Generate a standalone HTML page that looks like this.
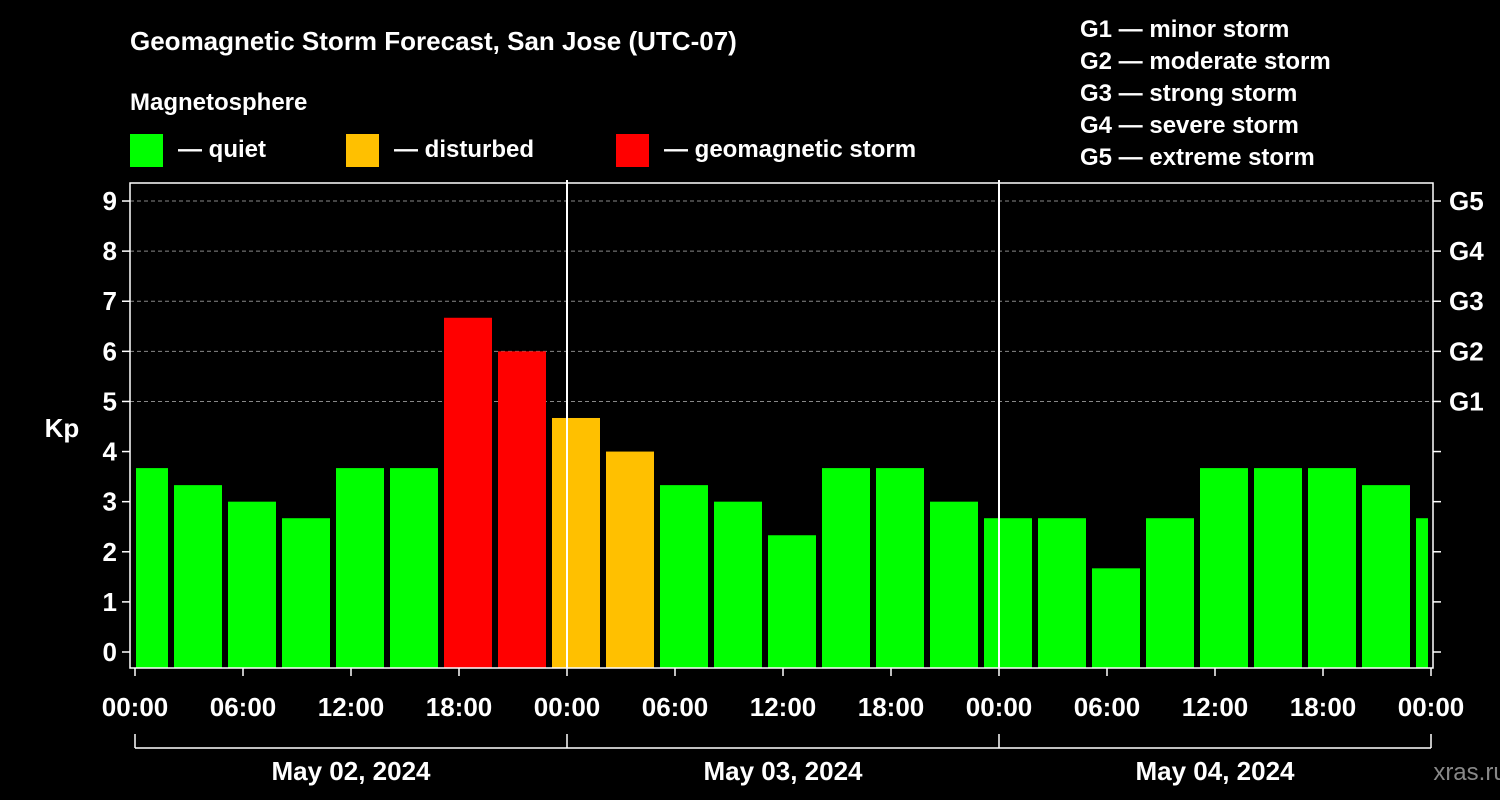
<!DOCTYPE html>
<html><head><meta charset="utf-8"><style>
html,body{margin:0;padding:0;background:#000;}
svg{display:block;font-family:"Liberation Sans",Arial,sans-serif;font-weight:bold;}
</style></head><body>
<svg width="1500" height="800" viewBox="0 0 1500 800">
<text x="130" y="50" fill="#fff" font-size="26">Geomagnetic Storm Forecast, San Jose (UTC-07)</text>
<text x="130" y="110" fill="#fff" font-size="24">Magnetosphere</text>
<g><rect x="130" y="134" width="33" height="33" fill="#00ff00"/><text x="178" y="157" fill="#fff" font-size="24">— quiet</text></g>
<g><rect x="346" y="134" width="33" height="33" fill="#ffc000"/><text x="394" y="157" fill="#fff" font-size="24">— disturbed</text></g>
<g><rect x="616" y="134" width="33" height="33" fill="#ff0000"/><text x="664" y="157" fill="#fff" font-size="24">— geomagnetic storm</text></g>
<g fill="#fff" font-size="24">
<text x="1080" y="37">G1 — minor storm</text>
<text x="1080" y="69">G2 — moderate storm</text>
<text x="1080" y="101">G3 — strong storm</text>
<text x="1080" y="133">G4 — severe storm</text>
<text x="1080" y="165">G5 — extreme storm</text>
</g>
<text x="62" y="437" fill="#fff" font-size="26" text-anchor="middle">Kp</text>
<text x="1470" y="780" fill="#888" font-size="24" text-anchor="middle" font-weight="normal">xras.ru</text>
<g id="grid"></g>
<g id="bars"></g>
<g id="axes"></g>
</svg>
<script>
const kpValues=[3.67,3.33,3,2.67,3.67,3.67,6.67,6,4.67,4,3.33,3,2.33,3.67,3.67,3,2.67,2.67,1.67,2.67,3.67,3.67,3.67,3.33,2.67];
const yTicks=[0,1,2,3,4,5,6,7,8,9];
const gLabels=["G1","G2","G3","G4","G5"];
const xTickLabels=["00:00","06:00","12:00","18:00","00:00","06:00","12:00","18:00","00:00","06:00","12:00","18:00","00:00"];
const dateLabels=["May 02, 2024","May 03, 2024","May 04, 2024"];
const NS="http://www.w3.org/2000/svg";
const L=130,R=1433,T=183,B=668;
const y=v=>652-v*50.11;
const x=h=>135+h*18;
function mk(tag,attrs,parent,txt){const e=document.createElementNS(NS,tag);for(const k in attrs)e.setAttribute(k,attrs[k]);if(txt!==undefined)e.textContent=txt;document.getElementById(parent).appendChild(e);return e;}
function color(v){return v>=5?"#ff0000":v>=4?"#ffc000":"#00ff00";}
yTicks.forEach(v=>{
  if(v>=5){const g=mk("line",{x1:L,x2:R,y1:y(v),y2:y(v),stroke:"#888","stroke-dasharray":"4,3","stroke-width":1},"grid");
  
  }
  const t=mk("line",{x1:L-8,x2:L,y1:y(v),y2:y(v),stroke:"#fff","stroke-width":1.5},"axes");
  
  
  const t2=mk("line",{x1:R,x2:R+8,y1:y(v),y2:y(v),stroke:"#fff","stroke-width":1.5},"axes");
  
  
  const lb=mk("text",{x:L-13,y:y(v)+9,fill:"#fff","font-size":26,"text-anchor":"end"},"axes",String(v));
  
  
});
gLabels.forEach((g,i)=>{
  const lb=mk("text",{x:R+16,y:y(5+i)+9,fill:"#fff","font-size":26},"axes",g);
  
  
});
kpValues.forEach((v,k)=>{
  const c=x(3*k+0.5);let x0=Math.max(c-24,L+6),x1=Math.min(c+24,R-5);
  const b=mk("rect",{x:x0,y:y(v),width:x1-x0,height:B-y(v),fill:color(v)},"bars");
  
  
});
const fr=mk("rect",{x:L,y:T,width:R-L,height:B-T,fill:"none",stroke:"#fff","stroke-width":1.5},"axes");


[24,48].forEach(h=>{const d=mk("line",{x1:x(h),x2:x(h),y1:180,y2:B,stroke:"#fff","stroke-width":2},"axes");

});
xTickLabels.forEach((s,i)=>{
  const tk=mk("line",{x1:x(i*6),x2:x(i*6),y1:B,y2:B+8,stroke:"#fff","stroke-width":1.5},"axes");
  
  
  const lb=mk("text",{x:x(i*6),y:716,fill:"#fff","font-size":26,"text-anchor":"middle"},"axes",s);
  
  
});
const br=mk("line",{x1:x(0),x2:x(72),y1:748,y2:748,stroke:"#fff","stroke-width":1.5},"axes");


[0,24,48,72].forEach(h=>{const t=mk("line",{x1:x(h),x2:x(h),y1:734,y2:748,stroke:"#fff","stroke-width":1.5},"axes");

});
dateLabels.forEach((s,i)=>{const t=mk("text",{x:x(24*i+12),y:780,fill:"#fff","font-size":26,"text-anchor":"middle"},"axes",s);

});
</script>
</body></html>
